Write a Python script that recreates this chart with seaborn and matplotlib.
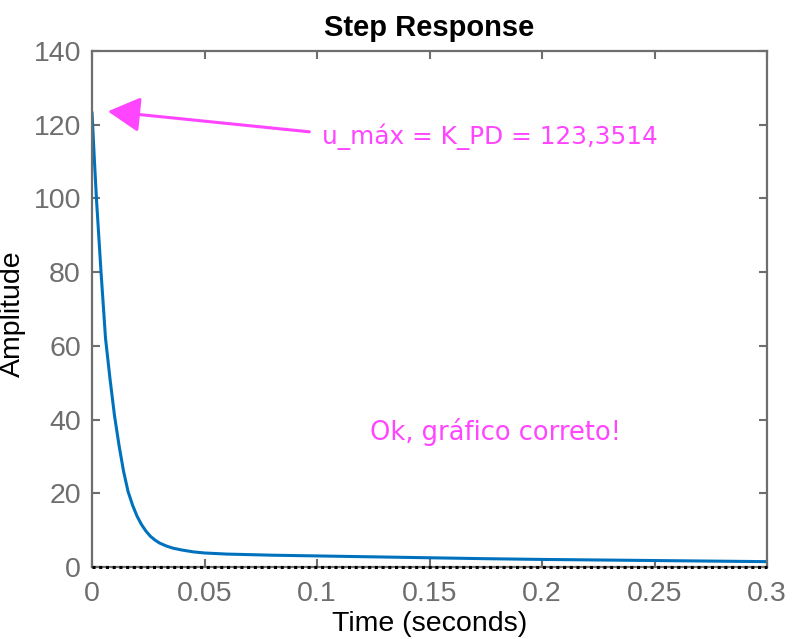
import numpy as np
import pandas as pd
import matplotlib
matplotlib.use("Agg")
import matplotlib.pyplot as plt
import seaborn as sns

# values
time_s = [0, 0.001, 0.002, 0.004, 0.006, 0.008, 0.010, 0.012, 0.014, 0.016,
          0.018, 0.020, 0.022, 0.024, 0.026, 0.028, 0.030, 0.033, 0.036, 0.040,
          0.045, 0.050, 0.060, 0.070, 0.080, 0.100, 0.125, 0.150, 0.175, 0.200,
          0.225, 0.250, 0.275, 0.300]
amplitude = [123.35, 111.0, 99.5, 80.0, 62.0, 51.0, 41.0, 33.0, 26.0, 20.5,
             16.8, 13.8, 11.5, 9.7, 8.3, 7.3, 6.5, 5.7, 5.1, 4.6,
             4.1, 3.8, 3.5, 3.35, 3.2, 3.0, 2.75, 2.5, 2.25, 2.05,
             1.9, 1.75, 1.6, 1.45]
final_value = 0

xticks = [0, 0.05, 0.1, 0.15, 0.2, 0.25, 0.3]
xtick_labels = ["0", "0.05", "0.1", "0.15", "0.2", "0.25", "0.3"]
yticks = [0, 20, 40, 60, 80, 100, 120, 140]

note_max = "u_máx = K_PD = 123,3514"
note_ok = "Ok, gráfico correto!"

df = pd.DataFrame({"t": time_s, "u": amplitude})

sns.set_style("white")
plt.rcParams["font.family"] = ["Liberation Sans", "DejaVu Sans"]

gray = "#6e6e6e"
pink = "#ff45ff"

fig = plt.figure(figsize=(7.92, 6.39), dpi=100)
ax = fig.add_axes([0.1162, 0.1127, 0.8523, 0.8075])

sns.lineplot(x="t", y="u", data=df, color="#0072BD", linewidth=2.2, ax=ax)
ax.axhline(final_value, color="black", linestyle=(0, (1, 1.2)), linewidth=2.2,
           zorder=5, clip_on=False)

ax.set_xlim(0, 0.3)
ax.set_ylim(0, 140)
ax.set_xticks(xticks)
ax.set_xticklabels(xtick_labels)
ax.set_yticks(yticks)

for s in ax.spines.values():
    s.set_visible(True)
    s.set_color(gray)
    s.set_linewidth(1.6)

ax.tick_params(direction="in", length=6, width=1.5, color=gray, labelcolor=gray,
               labelsize=20.5, top=True, right=True, bottom=True, left=True)
ax.tick_params(axis="x", pad=10)
ax.tick_params(axis="y", pad=8)

ax.set_title("Step Response", fontsize=21, fontweight="bold", pad=11, color="black")
ax.set_xlabel("Time (seconds)", fontsize=20.5, color="black")
ax.xaxis.set_label_coords(0.5, -0.085)
ax.set_ylabel("Amplitude", fontsize=20.5, color="black")
ax.yaxis.set_label_coords(-0.098, 0.49)

ax.annotate("", xy=(0.0058, 123.7), xytext=(0.0978, 118.0),
            arrowprops=dict(arrowstyle="-|>,head_length=1.1,head_width=0.6",
                            color=pink, lw=2.2, mutation_scale=18))
ax.text(0.1022, 116.7, note_max, color=pink, fontsize=17.8, va="center", ha="left",
        family=["DejaVu Sans"])
ax.text(0.1236, 36.6, note_ok, color=pink, fontsize=18.5, va="center", ha="left",
        family=["DejaVu Sans"])

plt.savefig("out.png", dpi=100)
